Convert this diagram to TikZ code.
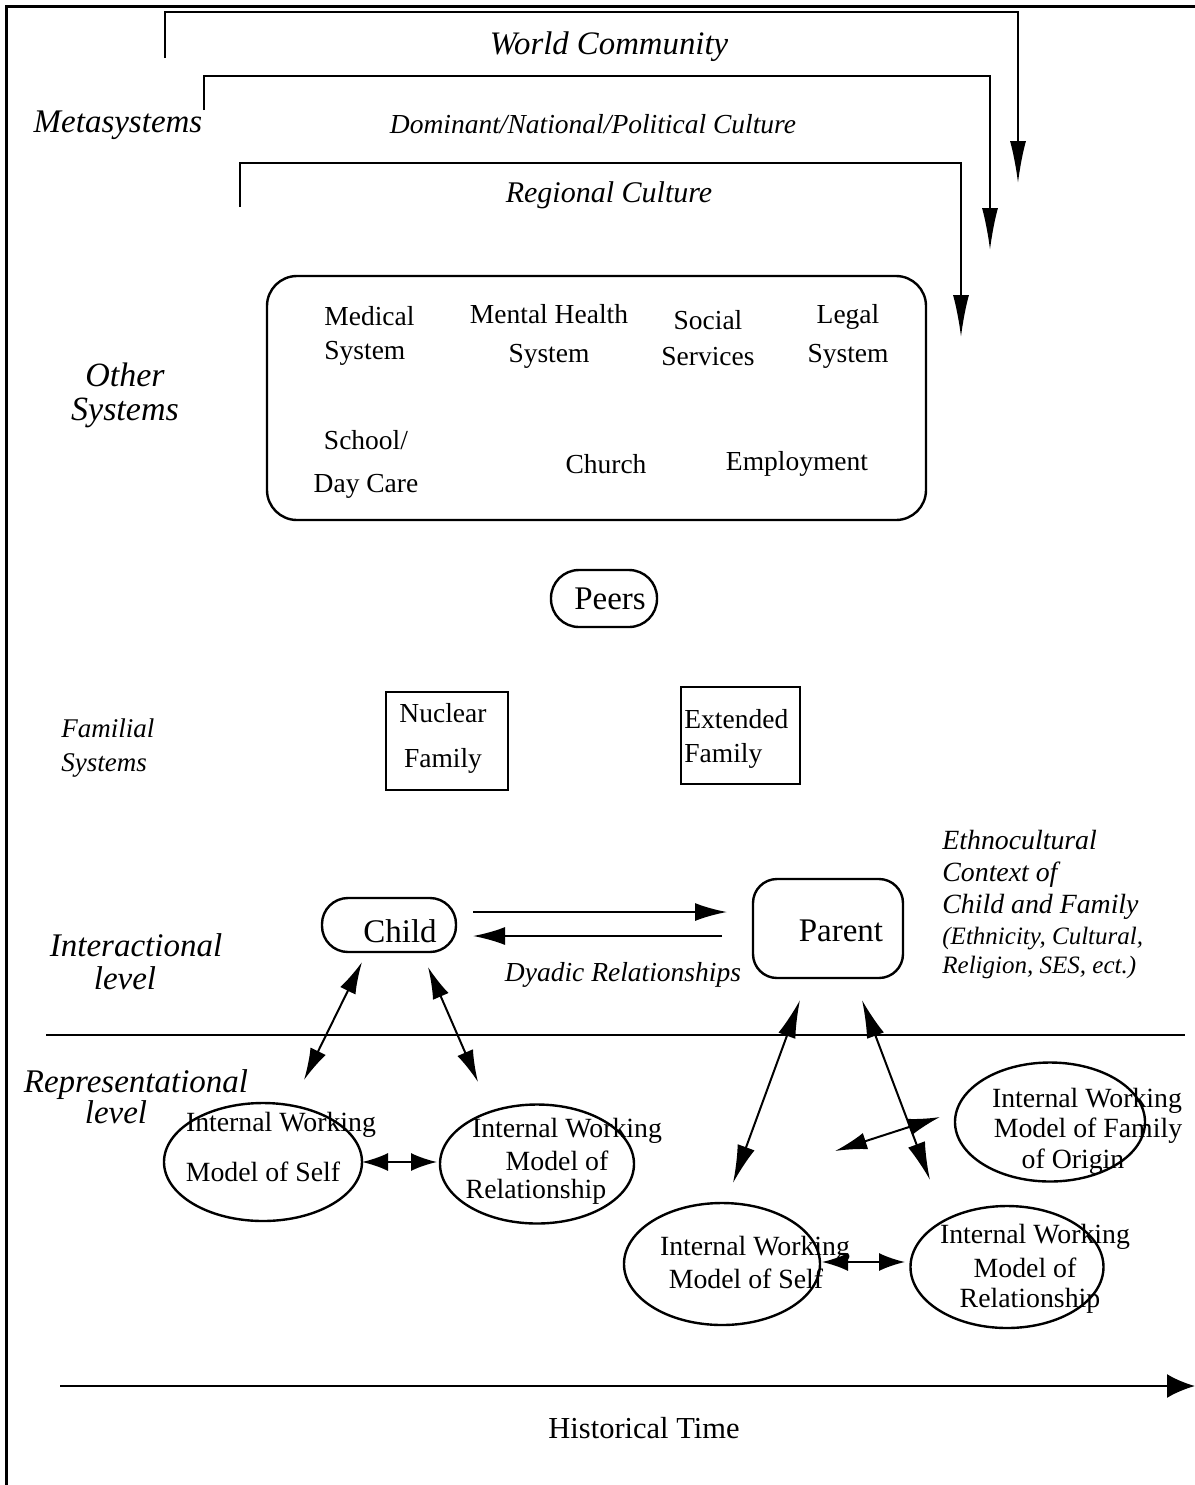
\documentclass[tikz,border=0pt]{standalone}
\usepackage{fontspec}
\setmainfont{Liberation Serif}
\usetikzlibrary{arrows.meta,shapes.geometric}
\newcommand\myfs[2]{\fontsize{#1pt}{#2pt}\selectfont}
\begin{document}
\begin{tikzpicture}[x=0.5pt,y=-0.5pt,
  txt/.style={inner sep=0pt, align=center},
  itx/.style={inner sep=0pt, align=center, font=\itshape},
  box/.style={draw, line width=1.2pt, inner sep=0pt},
  ell/.style={draw, ellipse, line width=1.2pt, inner sep=0pt},
  meta/.style={line width=1pt, -{Latex[length=21pt,width=8pt]}},
  dyad/.style={line width=1pt, -{Latex[length=16pt,width=9pt]}},
  dbig/.style={line width=1pt, {Latex[length=19pt,width=9pt]}-{Latex[length=19pt,width=9pt]}},
  dmid/.style={line width=1pt, {Latex[length=16pt,width=8.5pt]}-{Latex[length=16pt,width=8.5pt]}},
  dsml/.style={line width=1pt, {Latex[length=13pt,width=9pt]}-{Latex[length=13pt,width=9pt]}},
  timearr/.style={line width=1.2pt, -{Latex[length=14pt,width=12pt]}}
]
\useasboundingbox (0,0) rectangle (1195,1485);

% frame
\coordinate (fTR) at (1195,6);
\coordinate (fTL) at (6,6);
\coordinate (fBL) at (6,1485);
\draw[line width=1.5pt] (fTR) -- (fTL) -- (fBL);

% metasystem brackets
\coordinate (w0) at (165,58);  \coordinate (w1) at (165,12);
\coordinate (w2) at (1018,12); \coordinate (w3) at (1018,183);
\draw[meta] (w0) -- (w1) -- (w2) -- (w3);
\coordinate (d0) at (204,110); \coordinate (d1) at (204,76);
\coordinate (d2) at (990,76);  \coordinate (d3) at (990,250);
\draw[meta] (d0) -- (d1) -- (d2) -- (d3);
\coordinate (r0) at (240,207); \coordinate (r1) at (240,163);
\coordinate (r2) at (961,163); \coordinate (r3) at (961,337);
\draw[meta] (r0) -- (r1) -- (r2) -- (r3);

\node[itx, font=\itshape\myfs{16.4}{19}] (world) at (609,47) {World Community};
\node[itx, font=\itshape\myfs{13.75}{16}] (dominant) at (593,124) {Dominant/National/Political Culture};
\node[itx, font=\itshape\myfs{15}{18}] (regional) at (609,195) {Regional Culture};
\node[itx, font=\itshape\myfs{16.5}{19}] (metasys) at (118,125) {Metasystems};

% other systems
\node[itx, font=\itshape\myfs{17}{17}] (otherlbl) at (125,395) {Other\\Systems};
\node[box, rounded corners=15pt, minimum width=329.5pt, minimum height=122pt] (other) at (596.5,398) {};
\node[txt, anchor=west, align=left, font=\myfs{13.75}{17}] (medical) at (324,336) {Medical\\System};
\node[txt, font=\myfs{13.75}{19.5}] (mental) at (549,336.5) {Mental Health\\System};
\node[txt, font=\myfs{13.75}{18}] (social) at (708,338) {Social\\Services};
\node[txt, font=\myfs{13.75}{19.5}] (legal) at (848,336.5) {Legal\\System};
\node[txt, font=\myfs{13.75}{21.5}] (school) at (366,464.5) {School/\\Day Care};
\node[txt, font=\myfs{13.75}{17}] (church) at (606,464) {Church};
\node[txt, font=\myfs{13.75}{17}] (employ) at (797,464) {Employment};

% peers
\node[box, rounded corners=14pt, minimum width=53pt, minimum height=28.5pt] (peersbox) at (604,598.5) {};
\node[txt, font=\myfs{16.5}{19}] (peers) at (610,599) {Peers};

% familial
\node[itx, anchor=west, align=left, font=\itshape\myfs{13.5}{17}] (familial) at (61,748) {Familial\\Systems};
\node[box, minimum width=61pt, minimum height=49pt] (nucbox) at (447,741) {};
\node[txt, font=\myfs{13.75}{22.5}] (nuclear) at (443,738.5) {Nuclear\\Family};
\node[box, minimum width=59.5pt, minimum height=48.5pt] (extbox) at (740.5,735.5) {};
\node[txt, anchor=west, align=left, font=\myfs{13.75}{17}] (extended) at (684,739) {Extended\\Family};

% interactional
\node[itx, font=\itshape\myfs{16.5}{16.5}] (interlbl) at (136,962) {Interactional\\level\hspace*{11pt}};
\node[box, rounded corners=13pt, minimum width=67pt, minimum height=27pt] (childbox) at (389,925) {};
\node[txt, font=\myfs{16.5}{19}] (child) at (400,931) {Child};
\node[box, rounded corners=12pt, minimum width=75pt, minimum height=49.5pt] (parentbox) at (828,928.5) {};
\node[txt, font=\myfs{16.5}{19}] (parent) at (841,931) {Parent};

\coordinate (cp0) at (473,912); \coordinate (cp1) at (727,912);
\draw[dyad] (cp0) -- (cp1);
\coordinate (pc0) at (722,936); \coordinate (pc1) at (473,936);
\draw[dyad] (pc0) -- (pc1);
\node[itx, font=\itshape\myfs{13.75}{16}] (dyadic) at (623,975) {Dyadic Relationships};

\node[itx, anchor=west, align=left, font=\itshape\myfs{13.9}{16}] (ethno) at (942,875) {Ethnocultural\\Context of\\Child and Family};
\node[itx, anchor=west, align=left, font=\itshape\myfs{12.5}{14.5}] (ethno2) at (942,952.5) {(Ethnicity, Cultural,\\Religion, SES, ect.)};

% level divider
\coordinate (hl0) at (46,1035); \coordinate (hl1) at (1185,1035);
\draw[line width=1pt] (hl0) -- (hl1);

\node[itx, font=\itshape\myfs{16.5}{15.5}] (replbl) at (136,1097) {Representational\\level\hspace*{20pt}};

% child representations
\node[ell, minimum width=99pt, minimum height=59pt] (e1) at (263,1162) {};
\node[txt, font=\myfs{13.9}{16}] (e1a) at (281,1125) {Internal Working};
\node[txt, font=\myfs{13.9}{16}] (e1b) at (263,1172) {Model of Self};
\node[ell, minimum width=97pt, minimum height=59.5pt] (e2) at (537,1164) {};
\node[txt, font=\myfs{13.9}{16}] (e2a) at (567,1131) {Internal Working};
\node[txt, font=\myfs{13.9}{16}] (e2b) at (557,1161) {Model of};
\node[txt, font=\myfs{13.9}{16}] (e2c) at (536,1192) {Relationship};

\coordinate (a12a) at (362,1162); \coordinate (a12b) at (437,1162);
\draw[dsml] (a12a) -- (a12b);

\coordinate (c1a) at (362,962);  \coordinate (c1b) at (304,1080);
\draw[dmid] (c1a) -- (c1b);
\coordinate (c2a) at (428,967);  \coordinate (c2b) at (478,1082);
\draw[dmid] (c2a) -- (c2b);

% parent representations
\node[ell, minimum width=95pt, minimum height=59.5pt] (e3) at (1050,1122) {};
\node[txt, font=\myfs{13.9}{16}] (e3a) at (1087,1101) {Internal Working};
\node[txt, font=\myfs{13.9}{16}] (e3b) at (1088,1131) {Model of Family};
\node[txt, font=\myfs{13.9}{16}] (e3c) at (1073,1162) {of Origin};
\node[ell, minimum width=98pt, minimum height=61pt] (e4) at (722,1264) {};
\node[txt, font=\myfs{13.9}{16}] (e4a) at (755,1249) {Internal Working};
\node[txt, font=\myfs{13.9}{16}] (e4b) at (746,1279) {Model of Self};
\node[ell, minimum width=96.5pt, minimum height=61pt] (e5) at (1007,1267) {};
\node[txt, font=\myfs{13.9}{16}] (e5a) at (1035,1237) {Internal Working};
\node[txt, font=\myfs{13.9}{16}] (e5b) at (1025,1268) {Model of};
\node[txt, font=\myfs{13.9}{16}] (e5c) at (1030,1301) {Relationship};

\coordinate (p1a) at (800,1000); \coordinate (p1b) at (733,1183);
\draw[dbig] (p1a) -- (p1b);
\coordinate (p2a) at (862,1000); \coordinate (p2b) at (930,1180);
\draw[dbig] (p2a) -- (p2b);
\coordinate (foa) at (940,1117); \coordinate (fob) at (835,1151);
\draw[dmid] (foa) -- (fob);
\coordinate (a45a) at (822,1262); \coordinate (a45b) at (905,1262);
\draw[dsml] (a45a) -- (a45b);

% historical time
\coordinate (t0) at (60,1386); \coordinate (t1) at (1195,1386);
\draw[timearr] (t0) -- (t1);
\node[txt, font=\myfs{15.25}{18}] (histtime) at (644,1428) {Historical Time};
\end{tikzpicture}
\end{document}
